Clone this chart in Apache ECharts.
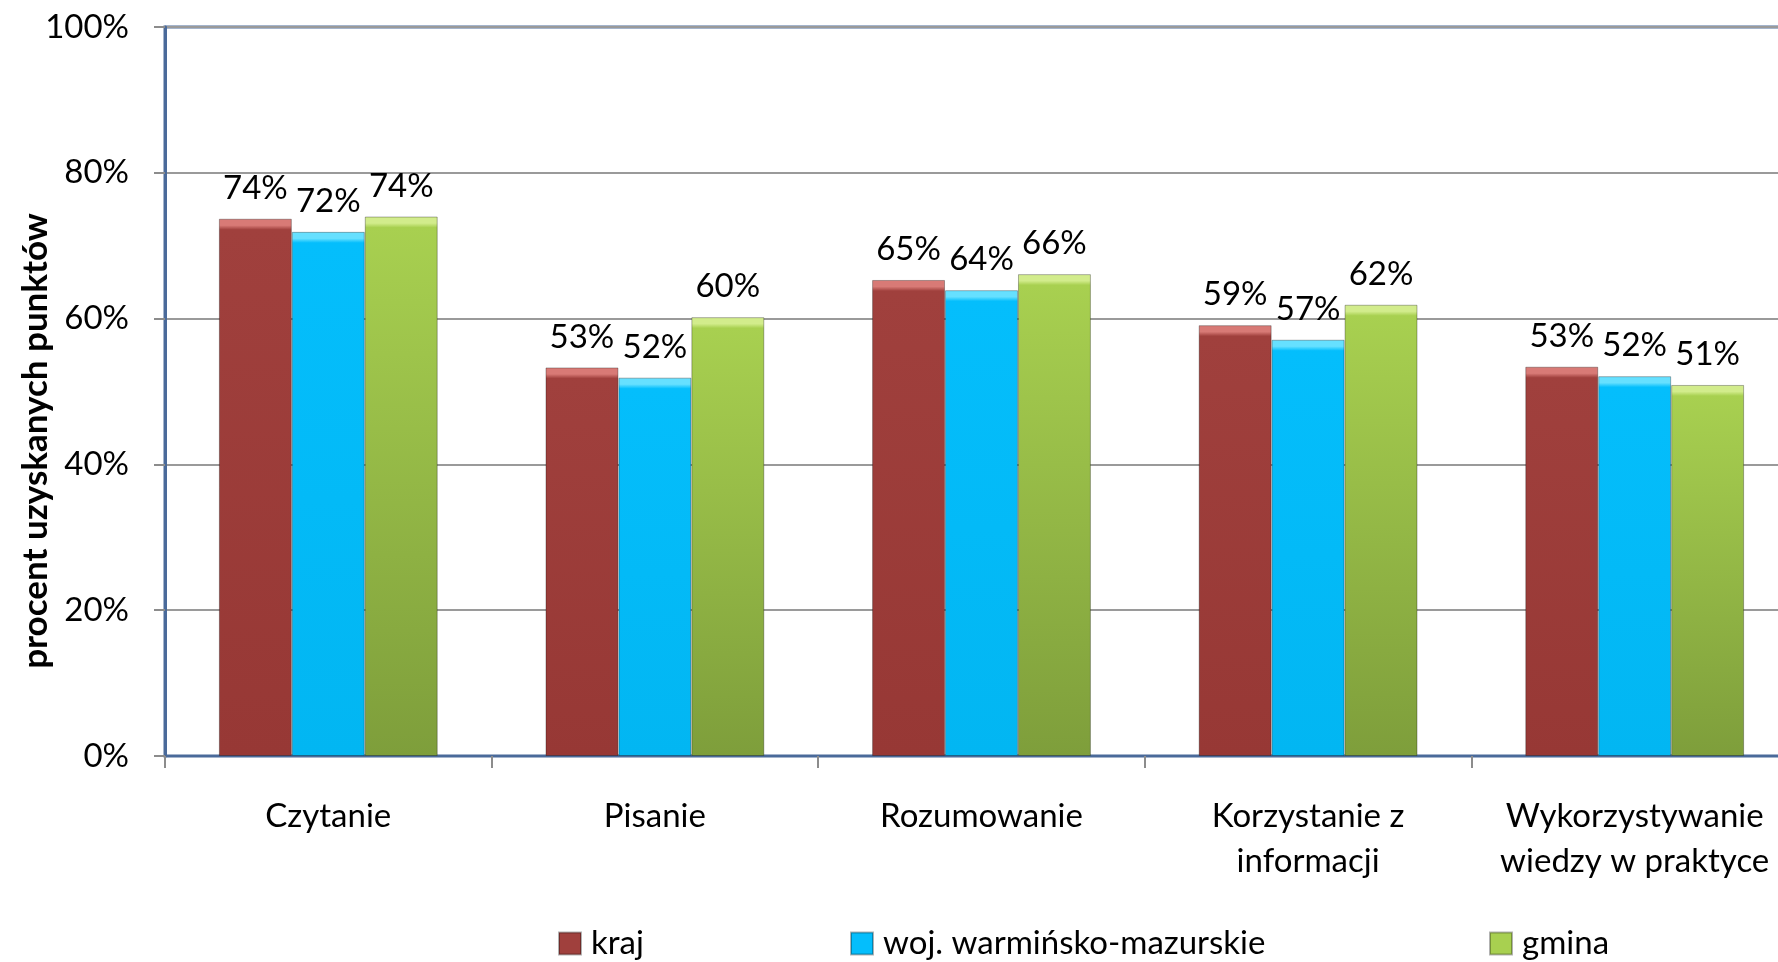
<!DOCTYPE html>
<html>
<head>
<meta charset="utf-8">
<script src="https://cdn.jsdelivr.net/npm/echarts@6/dist/echarts.min.js"></script>
<style>
  html, body { margin: 0; padding: 0; background: #fff; }
  #chart { width: 1778px; height: 962px; }
</style>
</head>
<body>
<div id="chart"></div>
<script>
// dane
var categories = ['Czytanie', 'Pisanie', 'Rozumowanie', 'Korzystanie z\ninformacji', 'Wykorzystywanie\nwiedzy w praktyce'];
var kraj = [73.7, 53.3, 65.3, 59.1, 53.4];
var woj = [71.9, 51.9, 63.9, 57.1, 52.1];
var gmina = [74.0, 60.2, 66.1, 61.9, 50.9];
var seriesNames = ['kraj', 'woj. warmińsko-mazurskie', 'gmina'];
var yTicks = [0, 20, 40, 60, 80, 100];

var FONT = 'Lato, "Open Sans", sans-serif';
var PLOT_H = 729;

// kolory: [fazka, gora, dol]
var palette = [
  ['#d87a76', '#a0403d', '#973835'],
  ['#66e0ff', '#04befc', '#02b6f2'],
  ['#d2ec8c', '#a8d050', '#7e9e3b']
];

function bevelColor(val, c) {
  var h = val / 100 * PLOT_H;
  var k = Math.min(0.5, 11 / h);
  return new echarts.graphic.LinearGradient(0, 0, 0, 1, [
    { offset: 0, color: c[0] },
    { offset: k * 0.6, color: c[0] },
    { offset: k, color: c[1] },
    { offset: 1, color: c[2] }
  ]);
}

function makeSeries(name, values, idx) {
  return {
    name: name,
    type: 'bar',
    barGap: '0%',
    barCategoryGap: '33%',
    data: values.map(function (v) {
      return { value: v, itemStyle: { color: bevelColor(v, palette[idx]) } };
    }),
    itemStyle: { color: palette[idx][1], borderColor: 'rgba(0,0,0,0.3)', borderWidth: 1 },
    label: {
      show: true,
      position: 'top',
      distance: 14,
      fontFamily: FONT,
      fontSize: 33,
      color: '#000',
      formatter: function (p) { return Math.round(p.value) + '%'; }
    }
  };
}

var myChart = echarts.init(document.getElementById('chart'));

var legendLeft = [553, 845, 1484];
var legends = seriesNames.map(function (n, i) {
  return {
    data: [{ name: n, itemStyle: { color: palette[i][1] } }],
    left: legendLeft[i],
    top: 922,
    icon: 'rect',
    itemWidth: 22,
    itemHeight: 22,
    selectedMode: false,
    textStyle: { fontFamily: FONT, fontSize: 33, color: '#000', padding: [0, 0, 0, 5] }
  };
});

var option = {
  animation: false,
  backgroundColor: '#fff',
  grid: {
    left: 165,
    top: 27,
    right: -20,
    height: PLOT_H,
    outerBoundsMode: 'none',
    containLabel: false,
    show: true,
    borderColor: '#4a6a9a',
    borderWidth: 3
  },
  legend: legends,
  graphic: [{
    type: 'text',
    x: 36,
    y: 441,
    rotation: Math.PI / 2,
    style: {
      text: 'procent uzyskanych punktów',
      font: 'bold 35px ' + FONT,
      fill: '#000',
      align: 'center',
      verticalAlign: 'middle'
    }
  }],
  xAxis: {
    type: 'category',
    data: categories,
    axisLine: { lineStyle: { color: '#4a6a9a', width: 2 } },
    axisTick: { show: true, length: 12, lineStyle: { color: '#8c8c8c', width: 2 } },
    axisLabel: {
      fontFamily: FONT,
      fontSize: 33,
      color: '#000',
      margin: 38,
      lineHeight: 45,
      interval: 0
    }
  },
  yAxis: {
    type: 'value',
    min: yTicks[0],
    max: yTicks[yTicks.length - 1],
    interval: 20,
    axisLine: { show: true, lineStyle: { color: '#4a6a9a', width: 3 } },
    axisTick: { show: true, length: 11, lineStyle: { color: '#8c8c8c', width: 2 } },
    splitLine: { lineStyle: { color: '#9a9a9a', width: 2 } },
    axisLabel: {
      fontFamily: FONT,
      fontSize: 33,
      color: '#000',
      margin: 36,
      formatter: '{value}%'
    }
  },
  series: [
    makeSeries(seriesNames[0], kraj, 0),
    makeSeries(seriesNames[1], woj, 1),
    makeSeries(seriesNames[2], gmina, 2)
  ]
};

myChart.setOption(option);
</script>
</body>
</html>
